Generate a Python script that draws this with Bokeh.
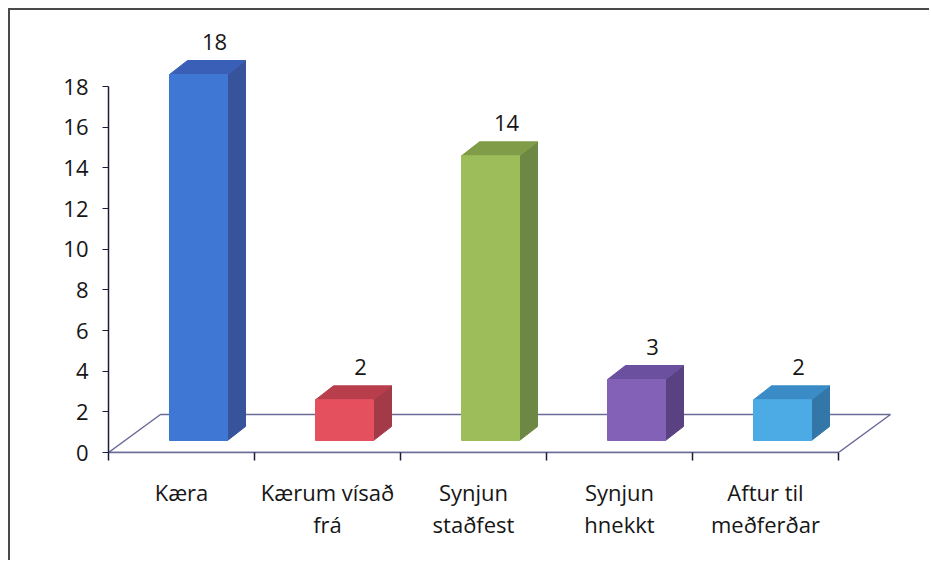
from bokeh.plotting import figure
from bokeh.models import Range1d, FixedTicker, ColumnDataSource
from bokeh.embed import file_html
from bokeh.resources import INLINE
from bokeh.core.properties import value

# ---- data ----
categories = ["Kæra", "Kærum vísað\nfrá", "Synjun\nstaðfest", "Synjun\nhnekkt", "Aftur til\nmeðferðar"]
counts = [18, 2, 14, 3, 2]
y_ticks = [0, 2, 4, 6, 8, 10, 12, 14, 16, 18]

front_colors = ["#3f78d4", "#e5505e", "#9cbd5a", "#8261b6", "#4caae4"]
side_colors = ["#36539c", "#a23a48", "#6d8744", "#5a4282", "#3277a8"]
top_colors = ["#3a5fb6", "#b83e4c", "#809c48", "#6b50a0", "#3a8bc6"]

FONT = "Open Sans"
W, H = 921, 552
ML, MR, MT, MB = 98, 14, 10, 110
frame_w = W - ML - MR
frame_h = H - MT - MB
n = len(categories)
px_per_cat = 146.0
px_per_val = 366.0 / 18.0
x_end = frame_w / px_per_cat
y_end = frame_h / px_per_val

ux = 1.0 / px_per_cat   # data units per px (x)
uy = 1.0 / px_per_val   # data units per px (y)

# 3D projection constants (pixels)
floor_dx, floor_dy = 52 * ux, 38 * uy
bar_off, bar_w = 17 * ux, 58 * ux
bar_base = 12 * uy
side_dx, side_dy = 18 * ux, 14 * uy
label_dx = 33 * ux
label_gap = 19 * uy

p = figure(width=W, height=H, output_backend="svg", toolbar_location=None,
           x_range=Range1d(0, x_end), y_range=Range1d(0, y_end),
           min_border_left=ML, min_border_right=MR, min_border_top=MT, min_border_bottom=MB)
p.styles = {"margin-left": "8px", "margin-top": "8px",
            "border-left": "2px solid #4a4a4a", "border-top": "2px solid #4a4a4a"}
p.outline_line_color = None
p.xgrid.visible = False
p.ygrid.visible = False
p.background_fill_color = "white"
p.border_fill_color = "white"

# floor
p.patch([0, n, n + floor_dx, floor_dx], [0, 0, floor_dy, floor_dy],
        fill_color="white", line_color="#6b6b98", line_width=1.5)

# bars
fx, fy, sx, sy, tx, ty = [], [], [], [], [], []
lx, ly, lt = [], [], []
for i, v in enumerate(counts):
    c = i + 0.5
    x0 = c + bar_off - bar_w / 2
    x1 = x0 + bar_w
    b = bar_base
    t = bar_base + v
    fx.append([x0, x1, x1, x0]); fy.append([b, b, t, t])
    sx.append([x1, x1 + side_dx, x1 + side_dx, x1]); sy.append([b, b + side_dy, t + side_dy, t])
    tx.append([x0, x1, x1 + side_dx, x0 + side_dx]); ty.append([t, t, t + side_dy, t + side_dy])
    lx.append(c + label_dx); ly.append(t + side_dy + label_gap); lt.append(str(v))

p.patches(xs=sx, ys=sy, fill_color=side_colors, line_color=side_colors, line_width=1)
p.patches(xs=tx, ys=ty, fill_color=top_colors, line_color=top_colors, line_width=1)
p.patches(xs=fx, ys=fy, fill_color=front_colors, line_color=front_colors, line_width=1)

src = ColumnDataSource(dict(x=lx, y=ly, t=lt))
p.text(x="x", y="y", text="t", source=src, text_font=value(FONT), text_font_size="22px",
       text_color="#161616", text_align="center", text_baseline="alphabetic")

# y axis
ya = p.yaxis[0]
ya.bounds = (0, 18)
ya.ticker = FixedTicker(ticks=y_ticks, minor_ticks=[])
ya.axis_line_color = "#1c1c3a"
ya.axis_line_width = 1.5
ya.major_tick_line_color = "#1c1c3a"
ya.major_tick_out = 6
ya.major_tick_in = 0
ya.minor_tick_line_color = None
ya.major_label_standoff = 14
ya.major_label_text_font = FONT
ya.major_label_text_font_size = "22px"
ya.major_label_text_color = "#161616"

# x axis
xa = p.xaxis[0]
xa.bounds = (0, n)
xa.ticker = FixedTicker(ticks=[i + 0.5 for i in range(n)], minor_ticks=list(range(n + 1)))
xa.major_label_overrides = {i + 0.5: categories[i] for i in range(n)}
xa.axis_line_color = "#6b6b98"
xa.axis_line_width = 1.5
xa.major_tick_line_color = None
xa.major_tick_out = 0
xa.major_tick_in = 0
xa.minor_tick_line_color = "#1c1c3a"
xa.minor_tick_line_width = 1.5
xa.minor_tick_out = 8
xa.minor_tick_in = 0
xa.major_label_standoff = 16
xa.major_label_text_font = FONT
xa.major_label_text_font_size = "22px"
xa.major_label_text_color = "#161616"
xa.major_label_text_line_height = 1.09

open("out.html", "w").write(file_html(p, INLINE))
